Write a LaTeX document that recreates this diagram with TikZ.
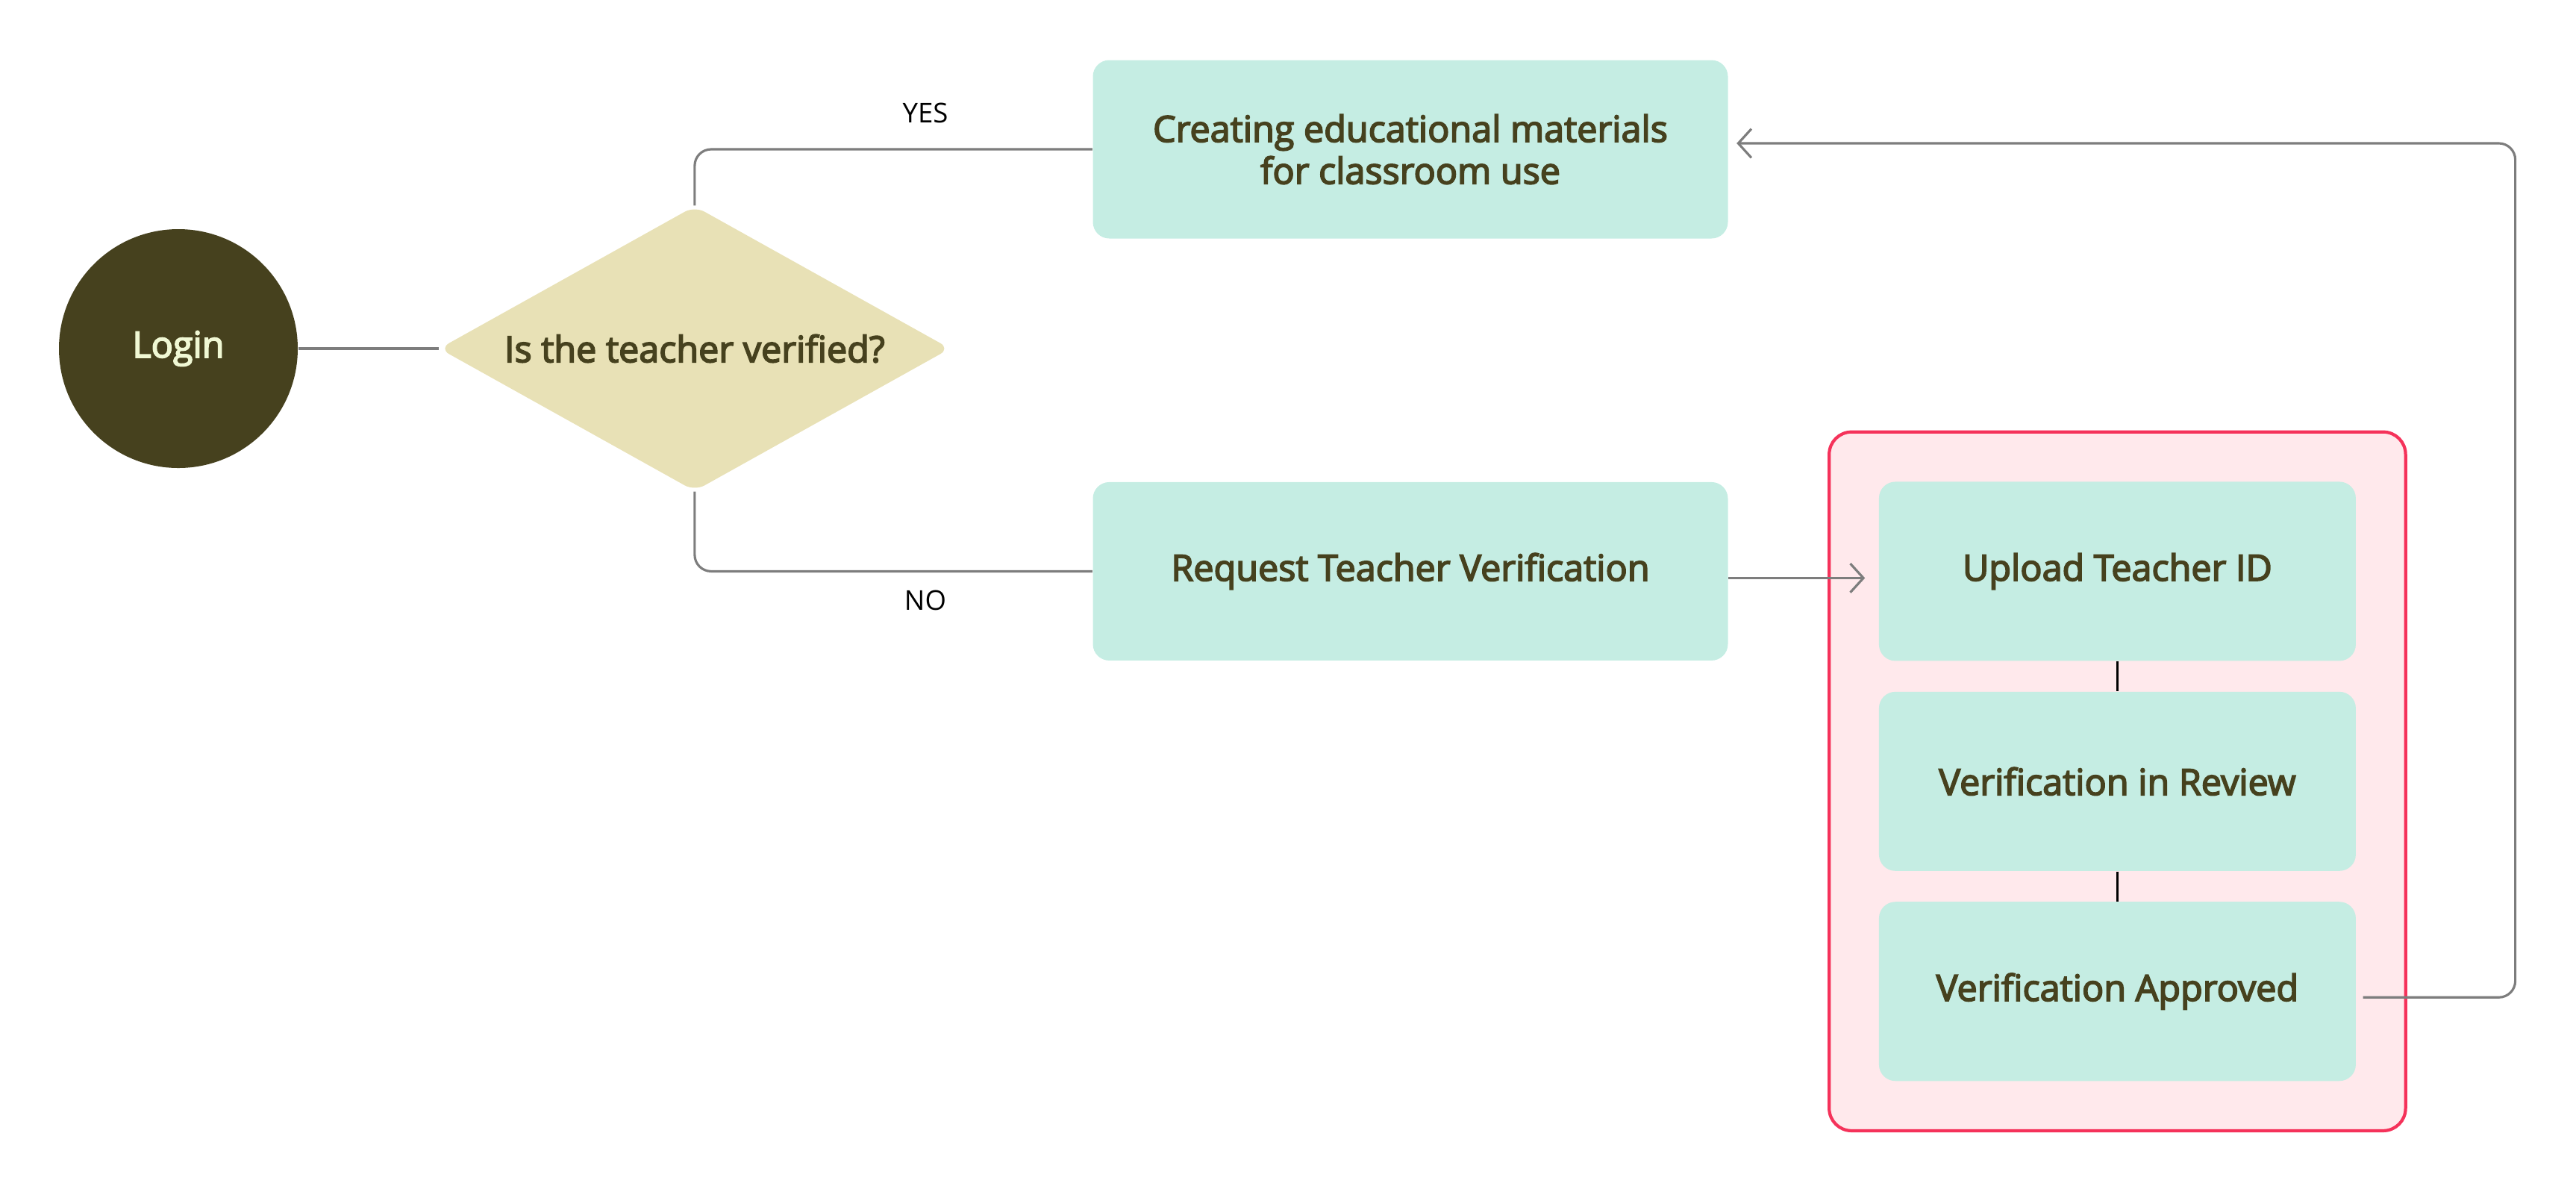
\documentclass[tikz,border=0pt]{standalone}
\usepackage{fontspec}
\setmainfont{Open Sans}[AutoFakeBold=3.5]
\usepackage{xcolor}
\usepackage{tikz}
\definecolor{olivedark}{RGB}{70,65,30}
\definecolor{creamtext}{RGB}{240,248,212}
\definecolor{sandfill}{RGB}{232,225,182}
\definecolor{mintfill}{RGB}{197,237,227}
\definecolor{pinkfill}{RGB}{255,233,236}
\definecolor{redline}{RGB}{245,50,90}
\definecolor{greyline}{RGB}{125,125,125}
\usetikzlibrary{shapes.geometric,arrows.meta,positioning,fit,backgrounds}

\begin{document}
\begin{tikzpicture}[
    node distance=2cm,
    font=\fontsize{13.8}{16}\selectfont\bfseries,
    box/.style={rectangle, rounded corners=0.22cm, minimum width=8.51cm, minimum height=2.39cm, align=center, fill=mintfill, text=olivedark},
    subbox/.style={box, minimum width=6.39cm, minimum height=2.40cm},
    decision/.style={diamond, shape aspect=1.79, rounded corners=0.15cm, minimum width=6.85cm, minimum height=3.82cm, inner sep=0pt, fill=sandfill, text=olivedark},
    start/.style={circle, minimum size=3.2cm, fill=olivedark, text=creamtext},
    group/.style={rectangle, rounded corners=0.3cm, fill=pinkfill, draw=redline, line width=1.2pt, inner sep=0.66cm},
    line/.style={draw=greyline, line width=0.9pt, rounded corners=0.22cm},
    arrow/.style={line, -{Straight Barb[length=5pt, width=11pt]}},
    tag/.style={font=\fontsize{10.4}{12}\selectfont\mdseries, text=black}
]
\useasboundingbox (0,0) rectangle (34.52,-15.92);

\node[start] (login) at (2.39,-4.67) {Login};
\node[decision, right=1.88cm of login] (check) {Is the teacher verified?};
\node[box] (create) at (18.90,-2.00) {Creating educational materials\\for classroom use};
\node[box, below=3.25cm of create] (request) {Request Teacher Verification};
\node[subbox, right=2.01cm of request] (upload) {Upload Teacher ID};
\node[subbox, below=0.4cm of upload] (review) {Verification in Review};
\node[subbox, below=0.4cm of review] (approved) {Verification Approved};

\begin{scope}[on background layer]
\node[group, fit=(upload)(approved)] (verify) {};
\end{scope}

\draw[line] (login) -- (check);
\draw[line] (check.north) |- node[tag, pos=0.79, above=0.22cm] {YES} (create.west);
\draw[line] (check.south) |- node[tag, pos=0.79, below=0.12cm] {NO} (request.west);
\draw[arrow, shorten >=0.18cm] ([yshift=-0.09cm]request.east) -- ([yshift=-0.09cm]upload.west);
\draw[black, line width=0.9pt] (upload) -- (review);
\draw[black, line width=0.9pt] (review) -- (approved);
\draw[arrow, shorten >=0.11cm] ([xshift=0.09cm, yshift=-0.08cm]approved.east) -- ++(2.04,0) |- ([yshift=0.08cm]create.east);

\end{tikzpicture}
\end{document}
